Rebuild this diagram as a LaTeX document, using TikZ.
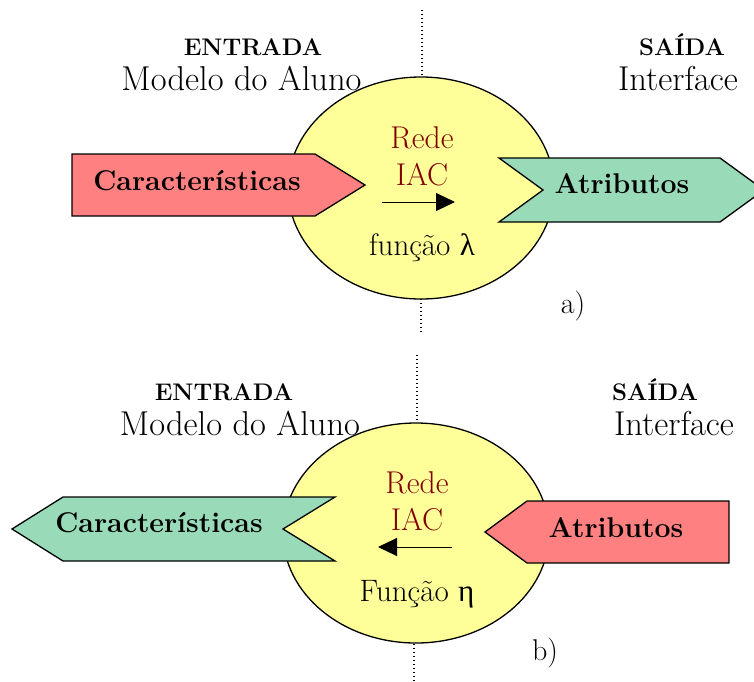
\documentclass[tikz,border=0pt]{standalone}
\usepackage{fontspec}
\newfontfamily\grk{Liberation Serif}
\usetikzlibrary{arrows.meta}
\definecolor{ovalyel}{RGB}{255,255,153}
\definecolor{salmon}{RGB}{255,128,128}
\definecolor{mint}{RGB}{153,219,185}
\definecolor{darkred}{RGB}{128,0,0}
\tikzset{
  hdr/.style={font=\fontsize{24}{28}\selectfont\bfseries, anchor=base, inner sep=0pt},
  sub/.style={font=\fontsize{34.5}{40}\selectfont, anchor=base, inner sep=0pt},
  net/.style={font=\fontsize{31.5}{36}\selectfont, text=darkred, anchor=base, inner sep=0pt},
  fun/.style={font=\fontsize{31}{35}\selectfont, anchor=base, inner sep=0pt},
  lbl/.style={font=\fontsize{28.5}{32}\selectfont\bfseries, anchor=base, inner sep=0pt},
  tag/.style={font=\fontsize{30}{34}\selectfont, anchor=base, inner sep=0pt},
  oval/.style={draw=black, fill=ovalyel, line width=1.3pt},
  redarrow/.style={draw=black, fill=salmon, line width=1.3pt, line join=miter},
  greenarrow/.style={draw=black, fill=mint, line width=1.3pt, line join=miter},
  sep/.style={line width=1.4pt, dash pattern=on 1.4pt off 2.6pt},
  flow/.style={line width=1pt, -{Triangle[length=19pt,width=18pt]}}
}
\begin{document}
\begin{tikzpicture}[x=1pt,y=-1pt]
\useasboundingbox (0,0) rectangle (754,681);
% ---------------- part a) ----------------
\coordinate (aTop1) at (422,10);
\coordinate (aTop2) at (422,77);
\coordinate (aBot1) at (421,299);
\coordinate (aBot2) at (421,333);
\draw[sep] (aTop1) -- (aTop2);
\draw[sep] (aBot1) -- (aBot2);
\path[oval] (421,188) ellipse [x radius=133, y radius=111];
\draw[redarrow] (72,154) -- (315,154) -- (365,185) -- (315,216) -- (72,216) -- cycle;
\draw[greenarrow] (499,158) -- (720,158) -- (764,190) -- (720,222) -- (499,222) -- (543,190) -- cycle;
\node[lbl] (aCar) at (197,190) {Características};
\node[lbl] (aAtr) at (622,193) {Atributos};
\node[hdr] (aEnt) at (253,55) {ENTRADA};
\node[sub] (aMod) at (241.5,90) {Modelo do Aluno};
\node[hdr] (aSai) at (682,55) {SAÍDA};
\node[sub] (aInt) at (678,90) {Interface};
\node[net] (aRede) at (422,148) {Rede};
\node[net] (aIAC) at (422,185) {IAC};
\node[fun] (aFun) at (422,255) {função {\grk λ}};
\coordinate (aFs) at (382,202);
\coordinate (aFe) at (455,202);
\draw[flow] (aFs) -- (aFe);
\node[tag] (aTag) at (573,313) {a)};
% ---------------- part b) ----------------
\coordinate (bTop1) at (417,355);
\coordinate (bTop2) at (417,423);
\coordinate (bBot1) at (414,644);
\coordinate (bBot2) at (414,681);
\draw[sep] (bTop1) -- (bTop2);
\draw[sep] (bBot1) -- (bBot2);
\path[oval] (416,533) ellipse [x radius=133, y radius=110];
\draw[greenarrow] (12,529) -- (63,497) -- (335,497) -- (283,529) -- (335,561) -- (63,561) -- cycle;
\draw[redarrow] (485,532) -- (527,501) -- (729,501) -- (729,563) -- (527,563) -- cycle;
\node[lbl] (bCar) at (159,532) {Características};
\node[lbl] (bAtr) at (616,537) {Atributos};
\node[hdr] (bEnt) at (224,400) {ENTRADA};
\node[sub] (bMod) at (240,435) {Modelo do Aluno};
\node[hdr] (bSai) at (655,400) {SAÍDA};
\node[sub] (bInt) at (674,435) {Interface};
\node[net] (bRede) at (417,493) {Rede};
\node[net] (bIAC) at (417,530) {IAC};
\node[fun] (bFun) at (417,601) {Função {\grk η}};
\coordinate (bFs) at (452,547);
\coordinate (bFe) at (378,547);
\draw[flow] (bFs) -- (bFe);
\node[tag] (bTag) at (545,660) {b)};
\end{tikzpicture}
\end{document}
